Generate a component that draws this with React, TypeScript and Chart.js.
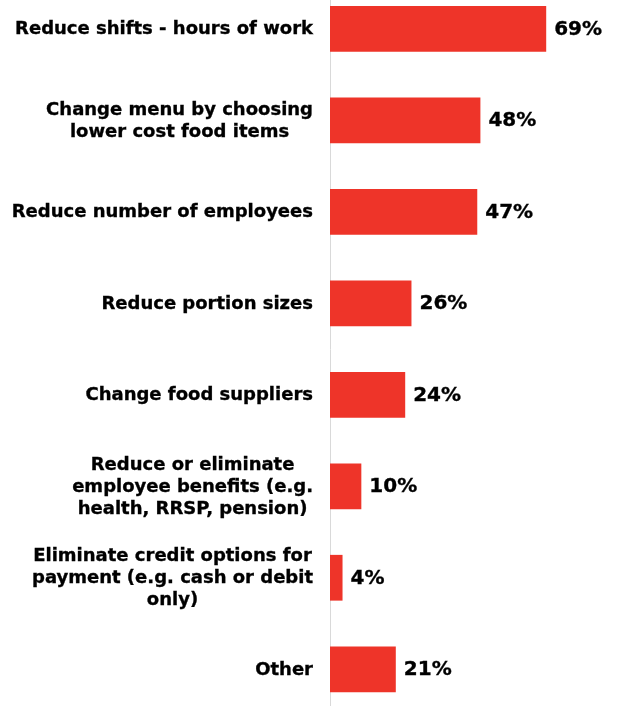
import { useEffect, useRef } from 'react';
import { Chart, registerables } from 'chart.js';

Chart.register(...registerables);

const categories: string[][] = [
  ['Reduce shifts - hours of work'],
  ['Change menu by choosing', 'lower cost food items'],
  ['Reduce number of employees'],
  ['Reduce portion sizes'],
  ['Change food suppliers'],
  ['Reduce or eliminate', 'employee benefits (e.g.', 'health, RRSP, pension)'],
  ['Eliminate credit options for', 'payment (e.g. cash or debit', 'only)'],
  ['Other'],
];
const values: number[] = [69, 48, 47, 26, 24, 10, 4, 21];
const xMin = 0;
const xMax = 90;

export default function App() {
  const ref = useRef<HTMLCanvasElement | null>(null);

  useEffect(() => {
    document.body.style.overflow = 'hidden';
    document.documentElement.style.overflow = 'hidden';
    const labelFont = 'bold 18px "DejaVu Sans"';
    const valueFont = 'bold 20px "DejaVu Sans"';
    const labelRight = 313;
    const lineHeight = 22;

    const drawText = (ctx: CanvasRenderingContext2D, t: string, x: number, y: number) => {
      ctx.fillText(t, x, y);
      ctx.strokeText(t, x, y);
    };

    const labelPlugin = {
      id: 'customLabels',
      afterDatasetsDraw(chart: any) {
        const ctx = chart.ctx as CanvasRenderingContext2D;
        const ys = chart.scales.y;
        const xs = chart.scales.x;
        ctx.save();
        ctx.fillStyle = '#000000';
        ctx.strokeStyle = '#000000';
        ctx.lineWidth = 0.35;
        ctx.textBaseline = 'middle';
        categories.forEach((lines, i) => {
          const cy = ys.getPixelForValue(i) + 1;
          ctx.font = labelFont;
          const w = Math.max(...lines.map((l) => ctx.measureText(l).width));
          const cx = labelRight - w / 2;
          ctx.textAlign = 'center';
          lines.forEach((l, j) => {
            drawText(ctx, l, cx, cy + (j - (lines.length - 1) / 2) * lineHeight);
          });
          ctx.font = valueFont;
          ctx.textAlign = 'left';
          drawText(ctx, `${values[i]}%`, xs.getPixelForValue(values[i]) + 8, cy);
        });
        ctx.restore();
      },
    };

    const chart = new Chart(ref.current as HTMLCanvasElement, {
      type: 'bar',
      data: {
        labels: categories.map((c) => c.join(' ')),
        datasets: [
          {
            data: values,
            backgroundColor: '#EE3429',
            borderWidth: 0,
            categoryPercentage: 1,
            barPercentage: 0.5,
          },
        ],
      },
      options: {
        indexAxis: 'y',
        animation: false,
        responsive: false,
        maintainAspectRatio: false,
        layout: { padding: { left: 330, right: 6, top: 0, bottom: 0 } },
        plugins: { legend: { display: false }, tooltip: { enabled: false } },
        scales: {
          x: { display: false, min: xMin, max: xMax },
          y: {
            type: 'category',
            ticks: { display: false },
            grid: { display: false, drawTicks: false },
            border: { display: true, color: '#d9d9d9', width: 1 },
          },
        },
      },
      plugins: [labelPlugin],
    });
    return () => chart.destroy();
  }, []);

  return (
    <div style={{ position: 'absolute', left: 0, top: -17, width: 618, height: 732 }}>
      <canvas ref={ref} width={618} height={732} style={{ width: 618, height: 732 }} />
    </div>
  );
}
